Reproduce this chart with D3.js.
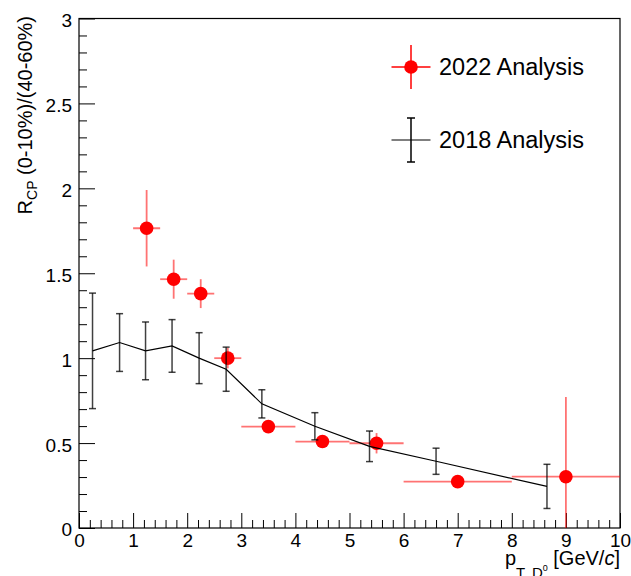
<!DOCTYPE html>
<html><head><meta charset="utf-8">
<script src="https://cdn.jsdelivr.net/npm/d3@7"></script>
<style>html,body{margin:0;padding:0;background:#fff;}svg{display:block;}</style>
</head><body>
<script>
// 2022 analysis
const x2022 = [1.25, 1.75, 2.25, 2.75, 3.5, 4.5, 5.5, 7, 9];
const xErr2022 = [0.25, 0.25, 0.25, 0.25, 0.5, 0.5, 0.5, 1, 1];
const y2022 = [1.765, 1.465, 1.38, 1.0, 0.597, 0.509, 0.499, 0.273, 0.302];
const yErr2022 = [0.225, 0.115, 0.085, 0.06, 0.02, 0.02, 0.06, 0.02, 0.47];
// 2018 analysis
const x2018 = [0.25, 0.75, 1.23, 1.72, 2.22, 2.72, 3.38, 4.36, 5.37, 6.6, 8.65];
const y2018 = [1.043, 1.092, 1.043, 1.072, 1.0, 0.935, 0.731, 0.599, 0.481, 0.393, 0.245];
const yErr2018 = [0.34, 0.17, 0.17, 0.155, 0.15, 0.13, 0.083, 0.08, 0.09, 0.077, 0.13];
// ticks
const xMajor = [0,1,2,3,4,5,6,7,8,9,10];
const yMajor = [0,0.5,1,1.5,2,2.5,3];
const legendLabels = ["2022 Analysis", "2018 Analysis"];

const W = 631, H = 576;
const L = 79, R = 620, T = 18.5, B = 528;
const FONT = "'Liberation Sans', Arial, Helvetica, sans-serif";

const svg = d3.select("body").append("svg").attr("width", W).attr("height", H)
  .style("background", "#fff");

const x = d3.scaleLinear().domain([0,10]).range([L,R]);
const y = d3.scaleLinear().domain([0,3]).range([B,T]);

svg.append("defs").append("clipPath").attr("id","clip")
  .append("rect").attr("x",L).attr("y",T).attr("width",R-L).attr("height",B-T);

// minor ticks
const xMinor = d3.range(0, 10.001, 0.2).map(v => +v.toFixed(2)).filter(v => Math.abs(v - Math.round(v)) > 1e-6);
const yMinor = d3.range(0, 3.001, 0.1).map(v => +v.toFixed(2)).filter(v => Math.abs(v*2 - Math.round(v*2)) > 1e-6);

function styleAxis(g, size){
  g.select(".domain").remove();
  g.selectAll(".tick line").attr("stroke","#000").attr("stroke-width",1);
  g.selectAll(".tick text").attr("fill","#000").style("font-family",FONT).style("font-size",size+"px");
}

svg.append("g").attr("transform",`translate(${L},0)`)
  .call(d3.axisLeft(y).tickValues(yMajor).tickSizeInner(-16).tickSizeOuter(0).tickPadding(7)
    .tickFormat(d => d3.format("")(d)))
  .call(g => styleAxis(g, 19))
  .call(g => g.selectAll(".tick text").attr("dy","0.42em"));
svg.append("g").attr("transform",`translate(${L},0)`)
  .call(d3.axisLeft(y).tickValues(yMinor).tickSizeInner(-8).tickSizeOuter(0).tickFormat(""))
  .call(g => styleAxis(g, 19));
svg.append("g").attr("transform",`translate(0,${B})`)
  .call(d3.axisBottom(x).tickValues(xMajor).tickSizeInner(-15).tickSizeOuter(0).tickPadding(6)
    .tickFormat(d3.format("d")))
  .call(g => styleAxis(g, 19));
svg.append("g").attr("transform",`translate(0,${B})`)
  .call(d3.axisBottom(x).tickValues(xMinor).tickSizeInner(-8).tickSizeOuter(0).tickFormat(""))
  .call(g => styleAxis(g, 19));

// frame
svg.append("rect").attr("x",L).attr("y",T).attr("width",R-L).attr("height",B-T)
  .attr("fill","none").attr("stroke","#000").attr("stroke-width",1.2);

const plot = svg.append("g").attr("clip-path","url(#clip)");

// 2022 series
const d22 = x2022.map((v,i)=>({x:v, xe:xErr2022[i], y:y2022[i], ye:yErr2022[i]}));
const errCol = "rgba(255,0,0,0.55)";
plot.selectAll(".h22").data(d22).join("line")
  .attr("x1",d=>x(d.x-d.xe)).attr("x2",d=>x(d.x+d.xe))
  .attr("y1",d=>y(d.y)).attr("y2",d=>y(d.y))
  .attr("stroke",errCol).attr("stroke-width",1.8);
plot.selectAll(".v22").data(d22).join("line")
  .attr("x1",d=>x(d.x)).attr("x2",d=>x(d.x))
  .attr("y1",d=>y(d.y-d.ye)).attr("y2",d=>y(d.y+d.ye))
  .attr("stroke",errCol).attr("stroke-width",1.8);
plot.selectAll(".m22").data(d22).join("circle")
  .attr("cx",d=>x(d.x)).attr("cy",d=>y(d.y)).attr("r",6.8).attr("fill","#ff0000");

// 2018 series
const d18 = x2018.map((v,i)=>({x:v, y:y2018[i], ye:yErr2018[i]}));
plot.append("path").datum(d18)
  .attr("d", d3.line().x(d=>x(d.x)).y(d=>y(d.y)))
  .attr("fill","none").attr("stroke","#000").attr("stroke-width",1.2);
const barCol = "rgba(0,0,0,0.75)";
plot.selectAll(".v18").data(d18).join("line")
  .attr("x1",d=>x(d.x)).attr("x2",d=>x(d.x))
  .attr("y1",d=>y(d.y-d.ye)).attr("y2",d=>y(d.y+d.ye))
  .attr("stroke",barCol).attr("stroke-width",1.5);
[-1,1].forEach(s=>{
  plot.selectAll(".c18"+s).data(d18).join("line")
    .attr("x1",d=>x(d.x)-3.5).attr("x2",d=>x(d.x)+3.5)
    .attr("y1",d=>y(d.y+s*d.ye)).attr("y2",d=>y(d.y+s*d.ye))
    .attr("stroke",barCol).attr("stroke-width",1.5);
});

// legend
const lg = svg.append("g");
const lx = 411, ly1 = 67, ly2 = 140;
lg.append("line").attr("x1",lx-19.5).attr("x2",lx+19.5).attr("y1",ly1).attr("y2",ly1).attr("stroke","#ff0000").attr("stroke-width",1.5);
lg.append("line").attr("x1",lx).attr("x2",lx).attr("y1",ly1-22).attr("y2",ly1+22).attr("stroke","#ff0000").attr("stroke-width",1.5);
lg.append("circle").attr("cx",lx).attr("cy",ly1).attr("r",6.8).attr("fill","#ff0000");
lg.append("line").attr("x1",lx-19.5).attr("x2",lx+19.5).attr("y1",ly2).attr("y2",ly2).attr("stroke","#555").attr("stroke-width",1.5);
lg.append("line").attr("x1",lx).attr("x2",lx).attr("y1",ly2-22).attr("y2",ly2+22).attr("stroke","#000").attr("stroke-width",1.5);
[-22,22].forEach(o=>lg.append("line").attr("x1",lx-4).attr("x2",lx+4).attr("y1",ly2+o).attr("y2",ly2+o).attr("stroke","#000").attr("stroke-width",1.5));
lg.selectAll(".lt").data(legendLabels).join("text")
  .attr("x",439).attr("y",(d,i)=>i===0?ly1+7.5:ly2+7.5)
  .style("font-family",FONT).style("font-size","23.5px").attr("fill","#000")
  .text(d=>d);

// y title
const yt = svg.append("text").attr("transform","translate(31.5,16) rotate(-90)")
  .attr("text-anchor","end").style("font-family",FONT).style("font-size","20px").attr("fill","#000");
yt.append("tspan").text("R");
yt.append("tspan").attr("dy",5).style("font-size","14px").text("CP");
yt.append("tspan").attr("dy",-5).text(" (0-10%)/(40-60%)");

// x title
const xt = svg.append("text").attr("x",620).attr("y",565).attr("text-anchor","end")
  .style("font-family",FONT).style("font-size","20px").attr("fill","#000");
xt.append("tspan").text("p");
xt.append("tspan").attr("dy",13).style("font-size","15px").text("T, D");
xt.append("tspan").attr("dy",-7).style("font-size","9px").text("0");
xt.append("tspan").attr("dy",-6).text(" [GeV/");
xt.append("tspan").style("font-style","italic").text("c");
xt.append("tspan").text("]");
</script>
</body></html>
